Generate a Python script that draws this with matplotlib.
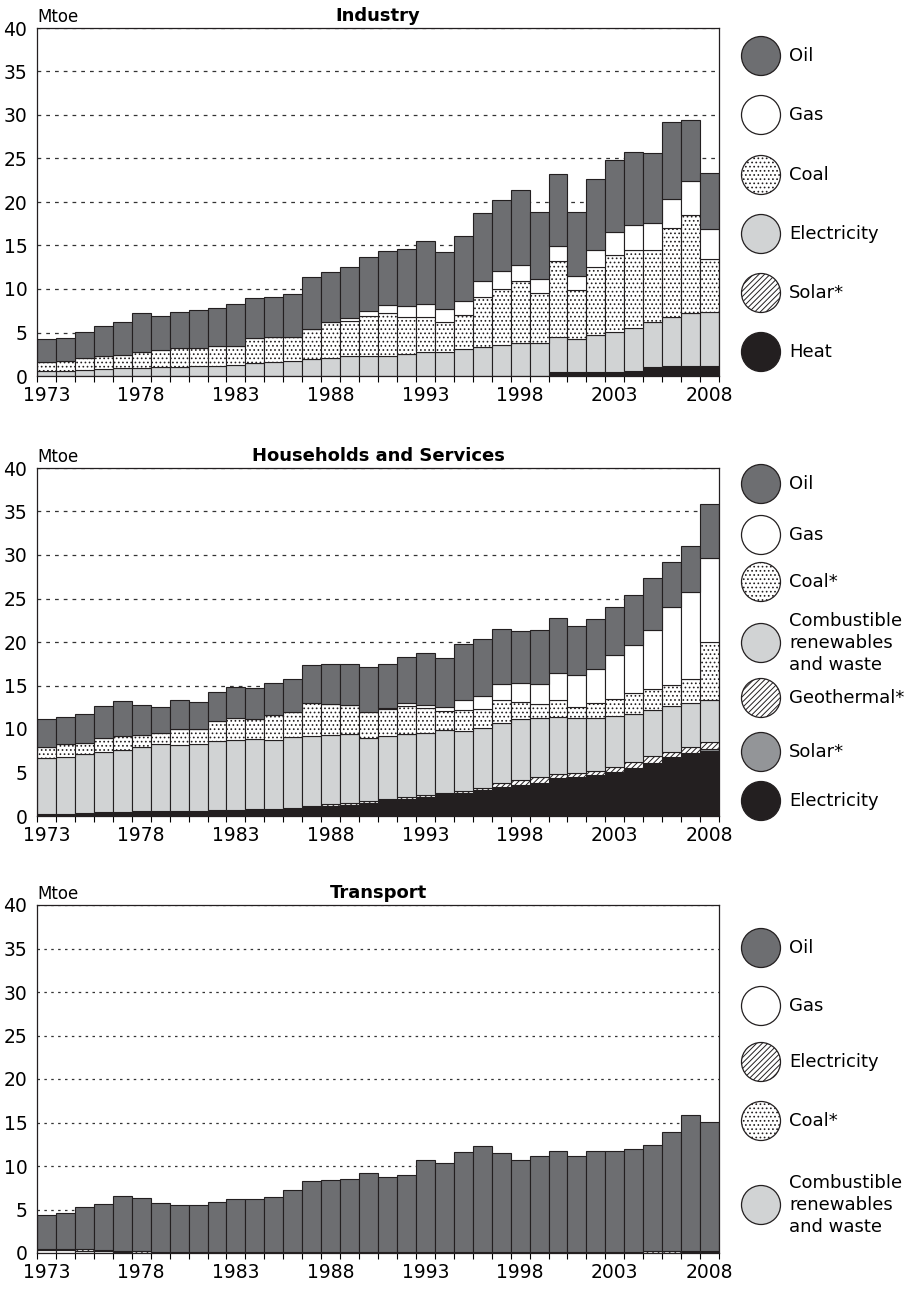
import numpy as np
import matplotlib
matplotlib.use("Agg")
import matplotlib.pyplot as plt
from matplotlib.patches import Circle

plt.rcParams['font.family'] = ['DejaVu Sans']
plt.rcParams['hatch.linewidth'] = 0.7

years = list(range(1973, 2009))
tick_years = [1973, 1978, 1983, 1988, 1993, 1998, 2003, 2008]

# ---- Industry (Mtoe) ----
ind_heat = [0] * 27 + [0.5, 0.42, 0.5, 0.42, 0.53, 1.0, 1.1, 1.1, 1.1]
ind_solar = [0] * 30 + [0.03, 0, 0, 0, 0.03, 0]
ind_electricity = [0.53, 0.6, 0.72, 0.84, 0.95, 0.95, 1.0, 1.03, 1.1, 1.18, 1.22, 1.45,
                   1.56, 1.68, 1.9, 2.02, 2.29, 2.29, 2.25, 2.52, 2.75, 2.75, 3.05, 3.3,
                   3.55, 3.85, 3.85, 3.93, 3.89, 4.19, 4.63, 5.0, 5.15, 5.66, 6.16, 6.27]
ind_coal = [1.11, 1.12, 1.34, 1.49, 1.45, 1.8, 2.0, 2.14, 2.14, 2.25, 2.28, 2.94,
            2.94, 2.82, 3.48, 4.13, 4.01, 4.61, 4.95, 4.31, 4.01, 3.51, 4.01, 5.73,
            6.41, 7.07, 5.73, 8.77, 5.61, 7.79, 8.85, 9.01, 8.28, 10.22, 11.21, 6.03]
ind_gas = [0] * 15 + [0.05, 0.42, 0.62, 1.0, 1.26, 1.56, 1.44, 1.57, 1.87,
                      2.14, 1.87, 1.6, 1.76, 1.53, 2.06, 2.63, 2.83, 3.17, 3.4, 3.9, 3.5]
ind_oil = [2.58, 2.63, 3.02, 3.47, 3.86, 4.54, 3.9, 4.2, 4.32, 4.43, 4.78, 4.56,
           4.55, 4.93, 6.02, 5.8, 5.84, 6.14, 6.19, 6.49, 7.25, 6.57, 7.44, 7.78,
           8.09, 8.55, 7.72, 8.24, 7.45, 8.13, 8.24, 8.32, 8.0, 8.78, 7.07, 6.42]

# ---- Households and Services (Mtoe) ----
hh_electricity = [0.23, 0.23, 0.35, 0.46, 0.46, 0.5, 0.5, 0.54, 0.54, 0.61, 0.65, 0.7,
                  0.72, 0.8, 1.0, 1.2, 1.3, 1.45, 1.75, 1.95, 2.17, 2.45, 2.65, 2.9,
                  3.3, 3.56, 3.8, 4.25, 4.44, 4.56, 4.94, 5.4, 5.98, 6.63, 7.13, 7.5]
hh_solar = [0] * 17 + [0.05] * 10 + [0.1] * 5 + [0.15] * 4
hh_geothermal = [0.0, 0.05, 0.03, 0.02, 0.02, 0.02, 0.02, 0.02, 0.06, 0.05, 0.07, 0.1,
                 0.13, 0.15, 0.2, 0.2, 0.22, 0.22, 0.2, 0.2, 0.18, 0.15, 0.18, 0.23,
                 0.45, 0.49, 0.59, 0.48, 0.44, 0.55, 0.63, 0.67, 0.73, 0.61, 0.69, 0.89]
hh_renewables = [6.44, 6.55, 6.75, 6.92, 7.15, 7.42, 7.77, 7.65, 7.69, 7.93, 8.03, 8.0,
                 7.84, 8.09, 8.03, 7.95, 7.94, 7.28, 7.23, 7.18, 7.18, 7.2, 6.85, 6.94,
                 6.89, 7.01, 6.79, 6.51, 6.25, 6.05, 5.79, 5.55, 5.32, 5.21, 5.02, 4.76]
hh_coal = [1.27, 1.42, 1.27, 1.61, 1.54, 1.42, 1.22, 1.84, 1.76, 2.3, 2.49, 2.4,
           2.93, 2.96, 3.77, 3.57, 3.35, 3.0, 3.12, 3.24, 2.84, 2.19, 2.5, 2.23,
           2.66, 1.99, 1.64, 2.03, 1.34, 1.73, 2.03, 2.42, 2.42, 2.5, 2.8, 6.74]
hh_gas = [0] * 18 + [0.05, 0.34, 0.39, 0.46, 1.12, 1.39, 1.83, 2.15, 2.3, 3.11,
                     3.68, 3.87, 4.98, 5.52, 6.78, 8.96, 9.92, 9.58]
hh_oil = [3.18, 3.14, 3.34, 3.61, 4.1, 3.45, 3.03, 3.3, 3.11, 3.34, 3.64, 3.5,
          3.69, 3.77, 4.38, 4.54, 4.65, 5.12, 5.06, 5.35, 5.96, 5.69, 6.46, 6.66,
          6.32, 6.01, 6.25, 6.32, 5.59, 5.78, 5.51, 5.74, 5.94, 5.17, 5.29, 6.28]

# ---- Transport (Mtoe) ----
tr_renewables = [0] * 32 + [0.03, 0.05, 0.12, 0.12]
tr_coal = [0.35, 0.33, 0.28, 0.22, 0.1, 0.05] + [0] * 30
tr_electricity = [0.15] * 36
tr_gas = [0] * 36
tr_oil = [3.83, 4.08, 4.82, 5.3, 6.26, 6.16, 5.56, 5.33, 5.33, 5.75, 6.02, 6.1,
          6.29, 7.09, 8.09, 8.24, 8.39, 9.05, 8.59, 8.85, 10.58, 10.23, 11.5, 12.11,
          11.34, 10.5, 11.04, 11.57, 11.04, 11.57, 11.57, 11.8, 12.27, 13.75, 15.63, 14.75]

C_OIL = '#6d6e71'
C_LIGHT = '#d1d3d4'
C_BLACK = '#231f20'
C_MID = '#939598'
EDGE = '#231f20'

# style for each energy: (facecolor, hatch)
STY = {
    'oil': (C_OIL, None),
    'gas': ('white', None),
    'coal': ('white', '....'),
    'light': (C_LIGHT, None),
    'hatched': ('white', '//////'),
    'mid': (C_MID, None),
    'black': (C_BLACK, None),
}

panels = [
    dict(title='Industry', top=28, grid=(0, (3, 4)),
         series=[(ind_heat, 'black'), (ind_solar, 'hatched'), (ind_electricity, 'light'),
                 (ind_coal, 'coal'), (ind_gas, 'gas'), (ind_oil, 'oil')],
         legend=[('Oil', 'oil', 56), ('Gas', 'gas', 115), ('Coal', 'coal', 175),
                 ('Electricity', 'light', 234), ('Solar*', 'hatched', 293),
                 ('Heat', 'black', 352)]),
    dict(title='Households and Services', top=468, grid=(0, (3, 4)),
         series=[(hh_electricity, 'black'), (hh_solar, 'mid'), (hh_geothermal, 'hatched'),
                 (hh_renewables, 'light'), (hh_coal, 'coal'), (hh_gas, 'gas'),
                 (hh_oil, 'oil')],
         legend=[('Oil', 'oil', 484), ('Gas', 'gas', 535), ('Coal*', 'coal', 582),
                 ('Combustible\nrenewables\nand waste', 'light', 643),
                 ('Geothermal*', 'hatched', 698), ('Solar*', 'mid', 752),
                 ('Electricity', 'black', 801)]),
    dict(title='Transport', top=905, grid=(0, (2, 3.5)),
         series=[(tr_renewables, 'light'), (tr_coal, 'coal'), (tr_electricity, 'hatched'),
                 (tr_gas, 'gas'), (tr_oil, 'oil')],
         legend=[('Oil', 'oil', 948), ('Gas', 'gas', 1006), ('Electricity', 'hatched', 1062),
                 ('Coal*', 'coal', 1121),
                 ('Combustible\nrenewables\nand waste', 'light', 1205)]),
]

W, H = 913, 1291
fig = plt.figure(figsize=(W / 100, H / 100), dpi=100)

x = np.arange(len(years))
ax_h = 348
for p in panels:
    ax = fig.add_axes([37 / W, 1 - (p['top'] + ax_h) / H, 682 / W, ax_h / H])
    bottom = np.zeros(len(years))
    for vals, key in p['series']:
        fc, hatch = STY[key]
        ax.bar(x, vals, width=1.0, bottom=bottom, color=fc, edgecolor=EDGE,
               linewidth=0.8, hatch=hatch, zorder=2)
        bottom += np.array(vals)
    ax.set_xlim(-0.5, len(years) - 0.5)
    ax.set_ylim(0, 40)
    ax.set_yticks(range(0, 41, 5))
    ax.yaxis.grid(True, linestyle=p['grid'], color='#333333', linewidth=0.9, zorder=0)
    ax.set_axisbelow(True)
    ax.tick_params(axis='y', length=0, pad=7, labelsize=13.5)
    ax.set_xticks([years.index(y) for y in tick_years])
    ax.set_xticklabels([str(y) for y in tick_years])
    ax.set_xticks(np.arange(-0.5, len(years)), minor=True)
    ax.tick_params(axis='x', which='major', length=0, pad=7, labelsize=13.5)
    ax.tick_params(axis='x', which='minor', length=4, direction='out', width=0.8)
    for s in ax.spines.values():
        s.set_color('#231f20')
        s.set_linewidth(0.9)
    ax.text(0.0, 1.005, 'Mtoe', transform=ax.transAxes, ha='left', va='bottom', fontsize=12)
    ax.set_title(p['title'], fontsize=13, fontweight='bold', pad=5)

# overlay in pixel coordinates for the round legend markers
lax = fig.add_axes([0, 0, 1, 1], facecolor='none')
lax.set_xlim(0, W)
lax.set_ylim(H, 0)
lax.axis('off')
for p in panels:
    for label, key, yc in p['legend']:
        fc, hatch = STY[key]
        lax.add_patch(Circle((761, yc), 19.5, facecolor=fc, edgecolor=EDGE,
                             linewidth=0.9, hatch=hatch))
        lax.text(789, yc, label, ha='left', va='center', fontsize=13, linespacing=1.3)

fig.savefig('out.png', dpi=100)
